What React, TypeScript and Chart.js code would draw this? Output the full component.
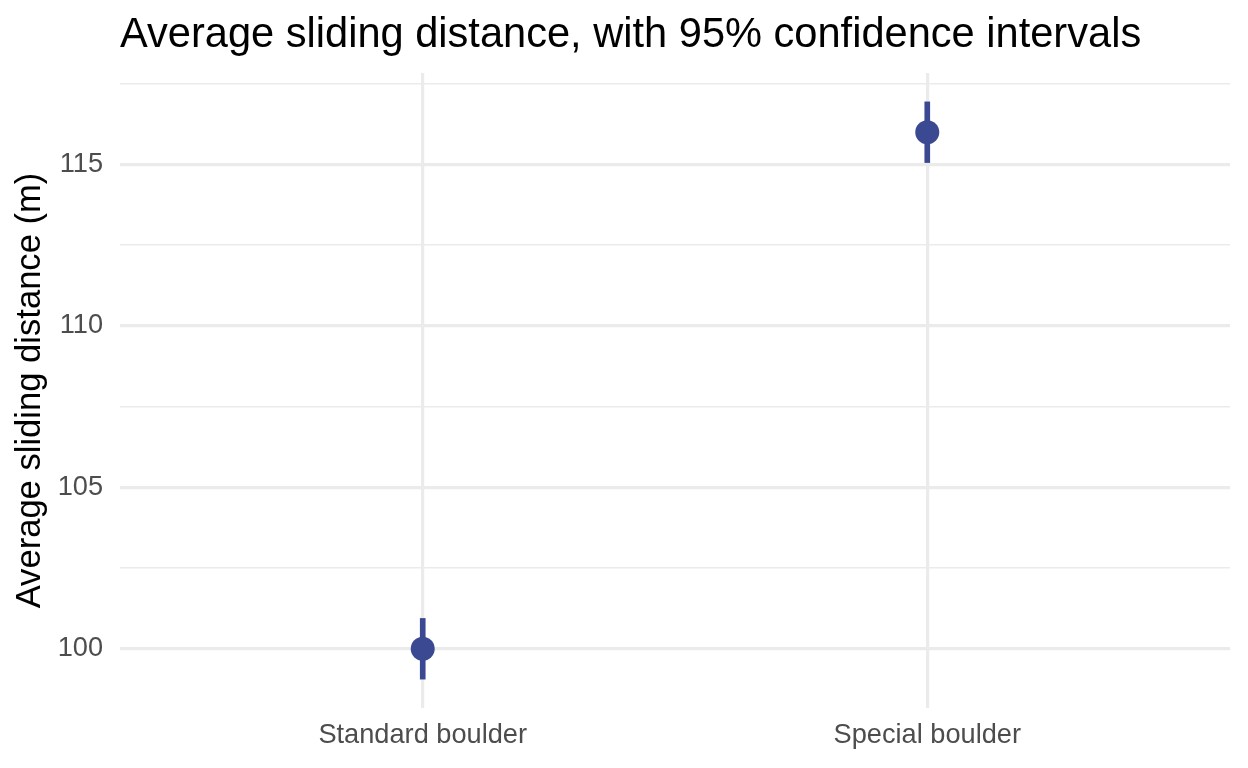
import React, { useEffect, useRef } from "react";
import { Chart, registerables } from "chart.js";

Chart.register(...registerables);

const categories = ["Standard boulder", "Special boulder"];
const means = [100, 116];
const lowerCI = [99.06, 115.06];
const upperCI = [100.94, 116.94];
const yTickValues = [100, 102.5, 105, 107.5, 110, 112.5, 115, 117.5];

const TITLE = "Average sliding distance, with 95% confidence intervals";
const Y_TITLE = "Average sliding distance (m)";
const FONT = "'Liberation Sans', Arial, Helvetica, sans-serif";
const POINT_COLOR = "#3B4992";
const GRID = "#EBEBEB";

const titlePlugin = {
  id: "ggTitle",
  afterDraw(chart: any) {
    const ctx = chart.ctx;
    ctx.save();
    ctx.font = `41.6px ${FONT}`;
    ctx.fillStyle = "#000000";
    ctx.textAlign = "left";
    ctx.textBaseline = "alphabetic";
    ctx.fillText(TITLE, chart.chartArea.left, 47);
    ctx.restore();
  },
};

export default function App() {
  const ref = useRef<HTMLCanvasElement | null>(null);

  useEffect(() => {
    document.body.style.margin = "0";
    const canvas = ref.current;
    if (!canvas) return;

    const lo = Math.min(...lowerCI);
    const hi = Math.max(...upperCI);
    const pad = (hi - lo) * 0.05;

    const chart = new Chart(canvas, {
      type: "scatter",
      data: {
        datasets: [
          {
            type: "scatter",
            data: means.map((m, i) => ({ x: i + 1, y: m })),
            backgroundColor: POINT_COLOR,
            borderWidth: 0,
            pointRadius: 12,
            pointHoverRadius: 12,
            order: 0,
          } as any,
          {
            type: "bar",
            data: lowerCI.map((l, i) => ({ x: i + 1, y: [l, upperCI[i]] })),
            backgroundColor: POINT_COLOR,
            borderWidth: 0,
            barThickness: 5,
            order: 1,
          } as any,
        ],
      },
      options: {
        responsive: false,
        animation: false,
        devicePixelRatio: 1,
        layout: { padding: { top: 73, right: 18, bottom: 0, left: 0 } },
        plugins: {
          legend: { display: false },
          tooltip: { enabled: false },
          title: { display: false },
        },
        scales: {
          x: {
            type: "linear",
            min: 0.4,
            max: 2.6,
            offset: false,
            border: { display: false },
            grid: { color: GRID, lineWidth: 3.2, drawTicks: false, offset: false },
            afterBuildTicks: (scale: any) => {
              scale.ticks = categories.map((_, i) => ({ value: i + 1 }));
            },
            afterFit: (scale: any) => {
              scale.height = 60;
            },
            ticks: {
              padding: 11,
              color: "#4D4D4D",
              font: { family: FONT, size: 27.2 },
              maxRotation: 0,
              autoSkip: false,
              callback: (v: any) => categories[Math.round(Number(v)) - 1] ?? "",
            },
          },
          y: {
            type: "linear",
            min: lo - pad,
            max: hi + pad,
            border: { display: false },
            grid: {
              color: GRID,
              drawTicks: false,
              lineWidth: (ctx: any) => (ctx.tick && ctx.tick.value % 5 === 0 ? 3.2 : 1.6),
            },
            afterBuildTicks: (scale: any) => {
              scale.ticks = yTickValues.map((v) => ({ value: v }));
            },
            afterFit: (scale: any) => {
              scale.width = 120;
            },
            ticks: {
              padding: 17,
              color: "#4D4D4D",
              font: { family: FONT, size: 27.2 },
              callback: (v: any) => (Number(v) % 5 === 0 ? String(v) : ""),
            },
            title: {
              display: true,
              text: Y_TITLE,
              color: "#000000",
              font: { family: FONT, size: 34.6 },
              padding: { top: 10, bottom: 0 },
            },
          },
        },
      },
      plugins: [titlePlugin],
    });

    return () => chart.destroy();
  }, []);

  return (
    <div style={{ width: 1248, height: 768, background: "#ffffff" }}>
      <canvas ref={ref} width={1248} height={768} style={{ display: "block" }} />
    </div>
  );
}
